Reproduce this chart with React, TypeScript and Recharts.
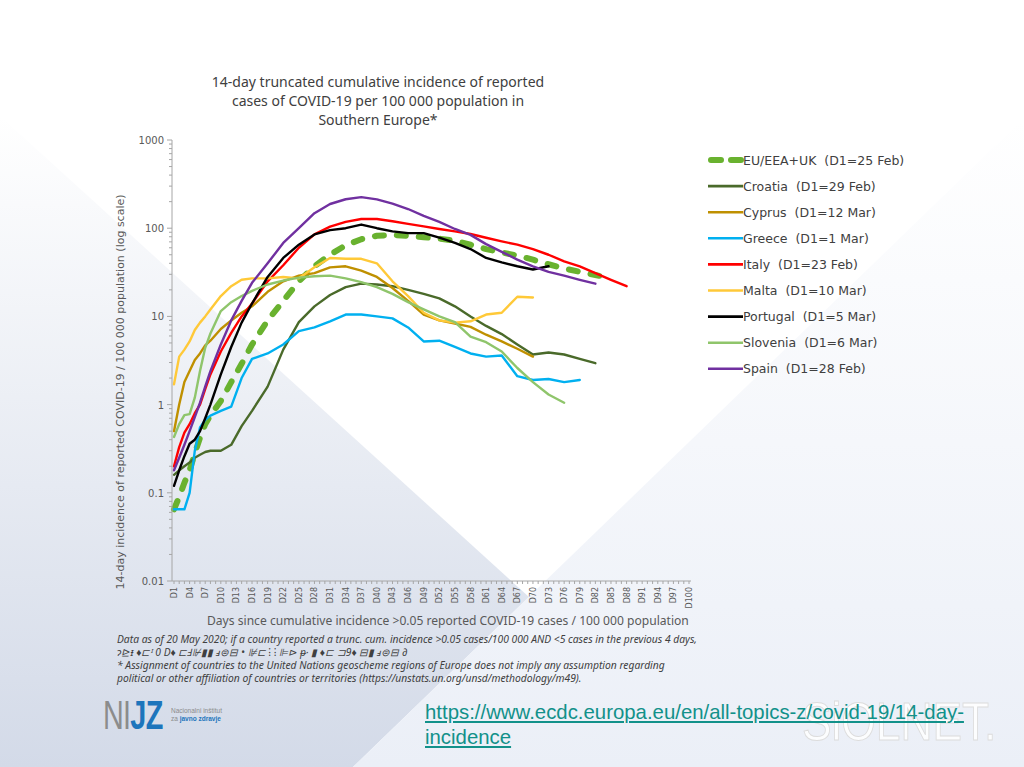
import { LineChart, Line, XAxis, YAxis } from 'recharts';

// Days since incidence > 0.05 / 100 000 (read every few days off the picture)
const days = [1, 2, 3, 4, 5, 6, 7, 8, 10, 12, 14, 16, 19, 22, 25, 28, 31, 34, 37, 40, 43, 46, 49, 52, 55, 58, 61, 64, 67, 70, 73, 76, 79, 82, 85, 88];

const euValues = [0.065, 0.09, 0.13, 0.18, 0.28, 0.42, 0.6, 0.75, 1.1, 1.8, 2.9, 4.8, 9, 15, 25, 37, 50, 64, 75, 82, 84, 82, 79, 76, 72, 65, 58, 53, 49, 44, 39, 35, 32, 29.5, 27, null];
const croatiaValues = [0.16, 0.18, 0.2, 0.22, 0.25, 0.27, 0.29, 0.3, 0.3, 0.35, 0.57, 0.85, 1.6, 4.2, 8.6, 13, 17.5, 21.5, 23.5, 23, 22, 20, 18, 16, 13, 10, 7.8, 6.3, 4.8, 3.7, 3.9, 3.7, 3.3, 2.95, null, null];
const cyprusValues = [0.5, 1.0, 1.8, 2.4, 3.2, 3.8, 4.7, 5.3, 7.2, 9, 11, 13, 19, 25, 29, 31, 36, 37, 33, 28, 21, 15, 10.5, 9, 8.3, 7.6, 6.2, 5.2, 4.3, 3.5, null, null, null, null, null, null];
const greeceValues = [0.065, 0.065, 0.065, 0.1, 0.3, 0.55, 0.67, 0.75, 0.85, 0.95, 2.0, 3.3, 3.8, 4.8, 6.8, 7.5, 8.8, 10.5, 10.5, 10, 9.5, 7.5, 5.2, 5.3, 4.5, 3.8, 3.5, 3.6, 2.1, 1.9, 1.95, 1.8, 1.9, null, null, null];
const italyValues = [0.2, 0.33, 0.48, 0.6, 0.8, 1.0, 1.5, 2.2, 4.0, 6.5, 10, 14, 25, 38, 60, 85, 104, 118, 127, 127, 120, 112, 105, 98, 92, 86, 78, 71, 65, 58, 50, 42, 37, 31, 26, 22];
const maltaValues = [1.7, 3.5, 4.2, 5.2, 7, 8.5, 10, 12, 17, 22, 26, 27, 27, 28, 27, 36, 46, 45, 45, 40, 25, 17, 11, 9, 8.5, 8.8, 10.5, 11, 16.7, 16.4, null, null, null, null, null, null];
const portugalValues = [0.12, 0.18, 0.26, 0.36, 0.4, 0.5, 0.7, 1.0, 2.2, 4.5, 8.5, 14, 28, 46, 65, 85, 95, 100, 110, 100, 92, 88, 88, 78, 68, 58, 46, 41, 37, 34, 37, null, null, null, null, null];
const sloveniaValues = [0.43, 0.6, 0.76, 0.78, 1.2, 2.4, 4.4, 6.4, 11.5, 14.5, 17, 19.5, 23, 25.5, 27.5, 28.5, 29, 27, 24.5, 21.5, 18, 14.5, 12, 10, 8.6, 5.9, 5.1, 4.0, 2.6, 1.8, 1.3, 1.05, null, null, null, null];
const spainValues = [0.18, 0.25, 0.35, 0.5, 0.72, 1.05, 1.6, 2.4, 4.8, 9, 15, 24, 40, 68, 100, 148, 188, 213, 225, 212, 190, 165, 138, 118, 98, 84, 66, 54, 44, 37, 32, 29, 26, 23.5, null, null];

const series = [
    { key: 'eu', name: 'EU/EEA+UK  (D1=25 Feb)', color: '#69b22f', values: euValues, dashed: true },
    { key: 'croatia', name: 'Croatia  (D1=29 Feb)', color: '#4a6a2a', values: croatiaValues },
    { key: 'cyprus', name: 'Cyprus  (D1=12 Mar)', color: '#bf9000', values: cyprusValues },
    { key: 'greece', name: 'Greece  (D1=1 Mar)', color: '#00b0f0', values: greeceValues },
    { key: 'italy', name: 'Italy  (D1=23 Feb)', color: '#ff0000', values: italyValues },
    { key: 'malta', name: 'Malta  (D1=10 Mar)', color: '#ffc938', values: maltaValues },
    { key: 'portugal', name: 'Portugal  (D1=5 Mar)', color: '#000000', values: portugalValues },
    { key: 'slovenia', name: 'Slovenia  (D1=6 Mar)', color: '#8fc56b', values: sloveniaValues },
    { key: 'spain', name: 'Spain  (D1=28 Feb)', color: '#7030a0', values: spainValues },
];

// Axis ticks: every day on x (labels every third), log decades with minor ticks on y
const dayTicks = Array.from({ length: 100 }, (_, i) => i + 1);
const decades = [0.01, 0.1, 1, 10, 100];
const yTicks = [...decades.flatMap(d => [1, 2, 3, 4, 5, 6, 7, 8, 9].map(k => +(d * k).toPrecision(3))), 1000];

const chartData = days.map((day, i) => {
    const row: Record<string, number | null> = { day };
    series.forEach(s => { row[s.key] = s.values[i]; });
    return row;
});

const AXIS_GRAY = '#a6a6a6';
const TEXT_GRAY = '#595959';

const isDecade = (v: number) => Math.abs(Math.log10(v) - Math.round(Math.log10(v))) < 1e-6;

const YTick = ({ x, y, payload }: any) => {
    const v = payload.value;
    const major = isDecade(v);
    return (
        <g>
            <line x1={x - (major ? 5 : 3)} x2={x} y1={y} y2={y} stroke={AXIS_GRAY} />
            {major && (
                <text x={x - 8} y={y} dy={4} textAnchor="end" fontSize={10} fill={TEXT_GRAY} fontFamily="DejaVu Sans">
                    {v}
                </text>
            )}
        </g>
    );
};

const XTick = ({ x, y, payload }: any) => {
    const v = payload.value;
    return (
        <g>
            <line x1={x} x2={x} y1={y} y2={y + 3} stroke={AXIS_GRAY} />
            {(v - 1) % 3 === 0 && (
                <text
                    transform={`translate(${x + 3},${y + 6}) rotate(-90)`}
                    textAnchor="end"
                    fontSize={8}
                    fill={TEXT_GRAY}
                    fontFamily="DejaVu Sans"
                >
                    {`D${v}`}
                </text>
            )}
        </g>
    );
};

const footStyle: React.CSSProperties = {
    position: 'absolute',
    left: 117,
    fontFamily: '"Noto Sans", sans-serif',
    fontStyle: 'italic',
    fontSize: 10.3,
    lineHeight: '12px',
    color: '#404040',
    whiteSpace: 'nowrap',
};

export default function App() {
    return (
        <div style={{ position: 'absolute', left: 0, top: 0, width: 1024, height: 767, overflow: 'hidden', background: '#ffffff' }}>
            {/* slide background */}
            <svg width={1024} height={767} style={{ position: 'absolute', left: 0, top: 0 }}>
                <defs>
                    <linearGradient id="leftBg" x1="0" y1="116" x2="0" y2="767" gradientUnits="userSpaceOnUse">
                        <stop offset="0%" stopColor="#ffffff" />
                        <stop offset="100%" stopColor="#d3dae8" />
                    </linearGradient>
                    <linearGradient id="rightBg" x1="0" y1="118" x2="0" y2="767" gradientUnits="userSpaceOnUse">
                        <stop offset="0%" stopColor="#ffffff" />
                        <stop offset="100%" stopColor="#ebeff7" />
                    </linearGradient>
                </defs>
                <polygon points="0,116 529,597 353,767 0,767" fill="url(#leftBg)" />
                <polygon points="353,767 1024,118 1024,767" fill="url(#rightBg)" />
            </svg>

            <div style={{ position: 'absolute', left: 178, top: 72, width: 400, textAlign: 'center', fontFamily: '"Noto Sans", sans-serif', fontSize: 14, lineHeight: '19px', color: '#404040' }}>
                14-day truncated cumulative incidence of reported<br />
                cases of COVID-19 per 100 000 population in<br />
                Southern Europe*
            </div>

            <div style={{ position: 'absolute', left: 0, top: 0 }}>
                <LineChart width={1024} height={767} data={chartData} margin={{ top: 140, right: 333, bottom: 146, left: 112 }}>
                    <XAxis
                        dataKey="day"
                        type="number"
                        domain={[1, 100]}
                        ticks={dayTicks}
                        interval={0}
                        padding={{ left: 2, right: 2 }}
                        height={40}
                        tick={<XTick />}
                        tickLine={false}
                        tickSize={0}
                        tickMargin={0}
                        axisLine={{ stroke: AXIS_GRAY }}
                    />
                    <YAxis
                        type="number"
                        scale="log"
                        domain={[0.01, 1000]}
                        allowDataOverflow
                        ticks={yTicks}
                        interval={0}
                        width={60}
                        tick={<YTick />}
                        tickLine={false}
                        tickSize={0}
                        tickMargin={0}
                        axisLine={{ stroke: AXIS_GRAY }}
                    />
                    {series.map(s => (
                        <Line
                            key={s.key}
                            dataKey={s.key}
                            name={s.name}
                            type="linear"
                            stroke={s.color}
                            strokeWidth={s.dashed ? 6 : 2.4}
                            strokeDasharray={s.dashed ? '9 13' : undefined}
                            strokeLinecap="round"
                            strokeLinejoin="round"
                            dot={false}
                            activeDot={false}
                            isAnimationActive={false}
                        />
                    ))}
                </LineChart>
            </div>

            {/* legend */}
            <svg width={300} height={240} style={{ position: 'absolute', left: 700, top: 145 }}>
                {series.map((s, i) => {
                    const y = 15 + i * 26.1;
                    return (
                        <g key={s.key}>
                            {s.dashed ? (
                                <line x1={11} x2={41} y1={y} y2={y} stroke={s.color} strokeWidth={6} strokeDasharray="10 10" strokeLinecap="round" />
                            ) : (
                                <line x1={8} x2={43} y1={y} y2={y} stroke={s.color} strokeWidth={2.6} />
                            )}
                            <text x={43} y={y} dy={4.5} fontSize={12.5} fill="#404040" fontFamily="DejaVu Sans" style={{ whiteSpace: 'pre' }}>
                                {s.name}
                            </text>
                        </g>
                    );
                })}
            </svg>

            <div style={{ position: 'absolute', left: 120, top: 392, width: 0, height: 0 }}>
                <div style={{ position: 'absolute', transform: 'translate(-50%, -50%) rotate(-90deg)', whiteSpace: 'nowrap', fontFamily: '"DejaVu Sans", sans-serif', fontSize: 11, color: TEXT_GRAY }}>
                    14-day incidence of reported COVID-19 / 100 000 population (log scale)
                </div>
            </div>

            <div style={{ position: 'absolute', left: 207, top: 612, whiteSpace: 'nowrap', fontFamily: '"Noto Sans", sans-serif', fontSize: 12.1, color: TEXT_GRAY }}>
                Days since cumulative incidence &gt;0.05 reported COVID-19 cases / 100 000 population
            </div>

            <div style={{ ...footStyle, top: 633 }}>
                Data as of 20 May 2020; if a country reported a trunc. cum. incidence &gt;0.05 cases/100 000 AND &lt;5 cases in the previous 4 days,
            </div>
            <div style={{ ...footStyle, top: 646 }}>
                ɂ⊵ᵻ ♦⊏ᴵ 0 D♦ ⊏Ⅎ⊮▮▮ ⅎ⊜⊟ • ⊯⊏ ⁝ ⁝ ⊫⊳ ᵽ· ▮ ♦⊏ ⊐9♦ ⊟▮ ⅎ⊜⊟ ∂
            </div>
            <div style={{ ...footStyle, top: 659 }}>
                * Assignment of countries to the United Nations geoscheme regions of Europe does not imply any assumption regarding
            </div>
            <div style={{ ...footStyle, top: 672 }}>
                political or other affiliation of countries or territories (https://unstats.un.org/unsd/methodology/m49).
            </div>

            {/* NIJZ logo */}
            <div style={{ position: 'absolute', left: 103, top: 692, fontFamily: '"Liberation Sans", sans-serif', fontSize: 40, lineHeight: '46px', transform: 'scaleX(0.72)', transformOrigin: 'left top', letterSpacing: -1 }}>
                <span style={{ color: '#8c8c8c' }}>NI</span>
                <span style={{ color: '#1d75bc', fontWeight: 700 }}>JZ</span>
            </div>
            <div style={{ position: 'absolute', left: 171, top: 707, fontFamily: '"Liberation Sans", sans-serif', fontSize: 6.5, lineHeight: '8px', color: '#8c8c8c' }}>
                Nacionalni inštitut<br />
                za <span style={{ color: '#1d75bc', fontWeight: 700 }}>javno zdravje</span>
            </div>

            {/* watermark */}
            <div style={{ position: 'absolute', left: 802, top: 690, fontFamily: '"Liberation Sans", sans-serif', fontSize: 54, color: 'rgba(255,255,255,0.85)', WebkitTextStroke: '1px #dcdcdc', whiteSpace: 'nowrap', transform: 'scaleX(0.82)', transformOrigin: 'left top' }}>
                SiOLNET.
            </div>

            {/* source link */}
            <div style={{ position: 'absolute', left: 425, top: 699, fontFamily: '"Liberation Sans", sans-serif', fontSize: 21, lineHeight: '25px', color: '#12918a', textDecoration: 'underline', whiteSpace: 'nowrap', transform: 'scaleX(0.97)', transformOrigin: 'left top' }}>
                https://www.ecdc.europa.eu/en/all-topics-z/covid-19/14-day-<br />
                incidence
            </div>
        </div>
    );
}
